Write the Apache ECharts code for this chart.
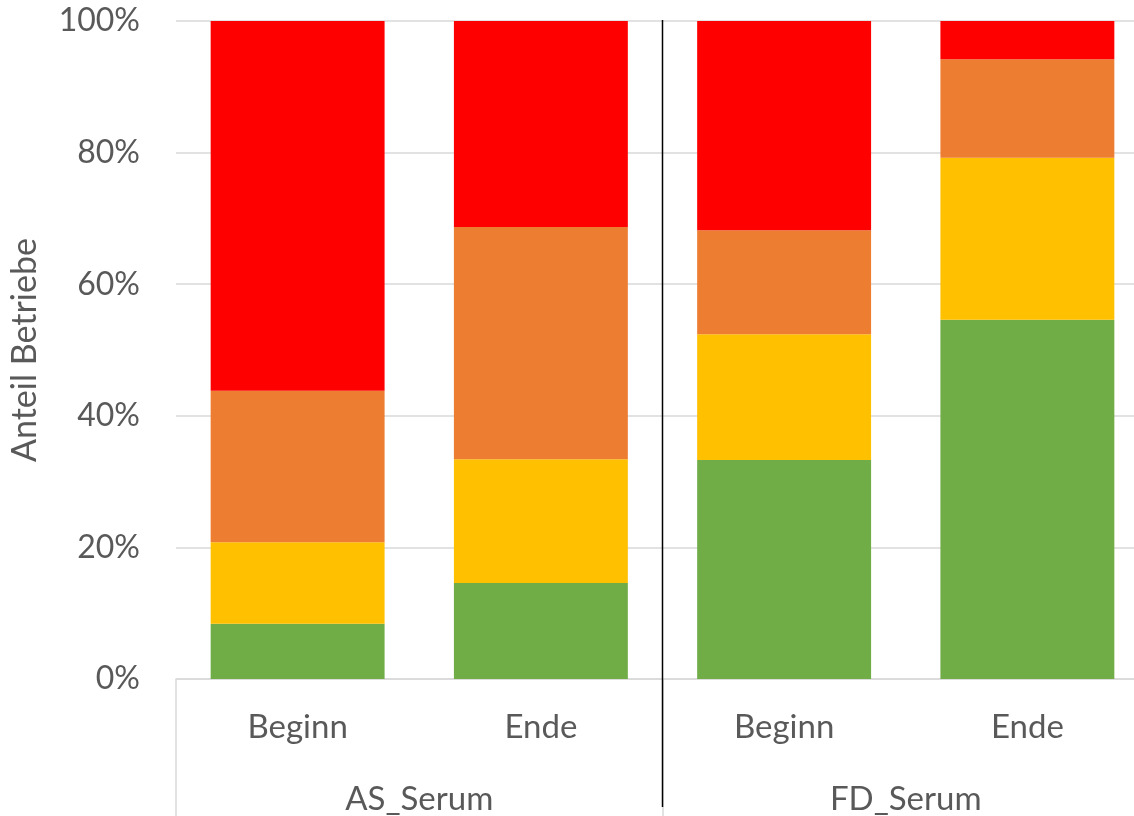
<!DOCTYPE html>
<html>
<head>
<meta charset="utf-8">
<script src="https://cdn.jsdelivr.net/npm/echarts@6/dist/echarts.min.js"></script>
<style>html,body{margin:0;padding:0;background:#fff}#c{width:1134px;height:816px}</style>
</head>
<body>
<div id="c"></div>
<script>
const subCategories = ['Beginn', 'Ende', 'Beginn', 'Ende'];
const groupCategories = ['AS_Serum', 'FD_Serum'];
const green = [8.4, 14.6, 33.3, 54.6];
const yellow = [12.4, 18.8, 19.1, 24.6];
const orange = [23.0, 35.3, 15.8, 15.0];
const red = [56.2, 31.3, 31.8, 5.8];
const yTicks = [0, 20, 40, 60, 80, 100];

const txt = '#595959';
const font = 'Lato';
const chart = echarts.init(document.getElementById('c'), null, {renderer: 'canvas'});
function mk(name, data, color) {
  return {name, type: 'bar', stack: 's', data, barWidth: '71.5%',
    itemStyle: {color}, xAxisIndex: 0, yAxisIndex: 0, silent: true};
}
chart.setOption({
  animation: false,
  textStyle: {fontFamily: font},
  grid: {left: 176, top: 21, width: 973, height: 658, containLabel: false, outerBoundsMode: 'none'},
  xAxis: [
    {type: 'category', data: subCategories, position: 'bottom',
      axisLine: {show: true, lineStyle: {color: '#D9D9D9', width: 1.5}},
      axisTick: {show: false},
      axisLabel: {color: txt, fontSize: 33, margin: 32, fontFamily: font}},
    {type: 'category', data: groupCategories, position: 'bottom',
      axisLine: {show: false},
      axisTick: {show: true, alignWithLabel: false, length: 140, inside: false, lineStyle: {color: '#D9D9D9', width: 1.5}},
      axisLabel: {color: txt, fontSize: 33, margin: 104, fontFamily: font}}
  ],
  yAxis: {type: 'value', min: 0, max: 100, interval: 20,
    name: 'Anteil Betriebe', nameLocation: 'middle', nameGap: 134, nameRotate: 90,
    nameTextStyle: {color: txt, fontSize: 34, fontFamily: font},
    axisLine: {show: false}, axisTick: {show: false},
    axisLabel: {color: txt, fontSize: 32, margin: 36, fontFamily: font,
      formatter: v => yTicks.includes(v) ? v + '%' : ''},
    splitLine: {lineStyle: {color: '#D9D9D9', width: 1.5}}},
  series: [
    mk('green', green, '#70AD47'),
    mk('yellow', yellow, '#FFC000'),
    mk('orange', orange, '#ED7D31'),
    mk('red', red, '#FF0000')
  ]
});
// separator line between the two groups (decorative)
const xMid = (chart.convertToPixel({xAxisIndex: 0}, 1) + chart.convertToPixel({xAxisIndex: 0}, 2)) / 2;
chart.setOption({graphic: [{type: 'line', shape: {x1: xMid, y1: 20, x2: xMid, y2: 807},
  style: {stroke: '#000', lineWidth: 1.5}, z: 100}]});
</script>
</body>
</html>
